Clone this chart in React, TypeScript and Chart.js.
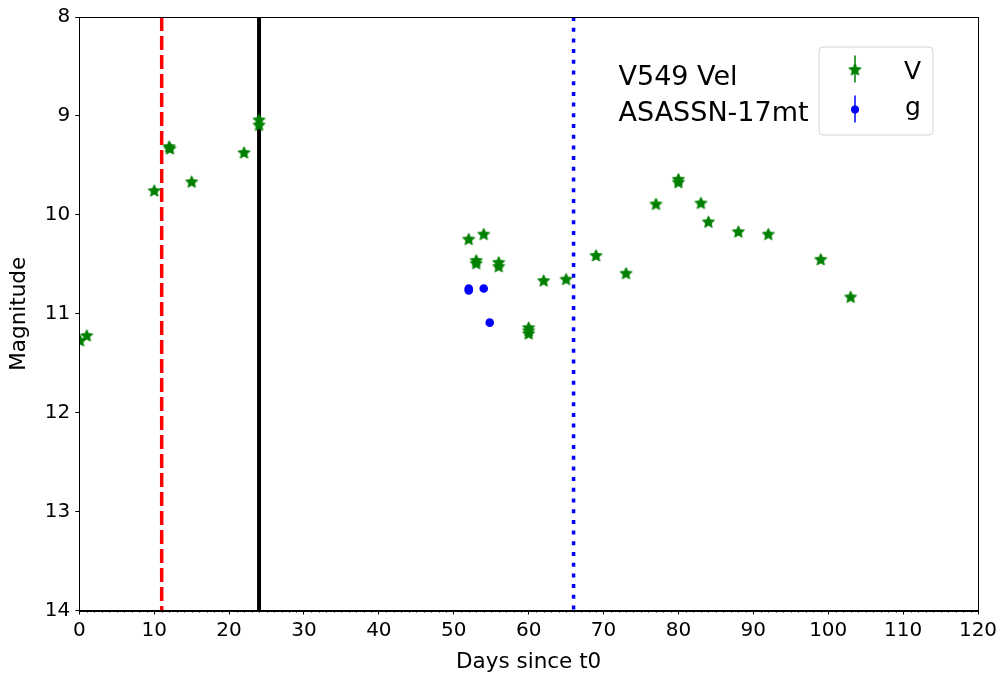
import React, { useEffect, useRef } from 'react';
import { Chart, registerables } from 'chart.js';

Chart.register(...registerables);

// ---- Data ----
const V_DAYS = [0.1, 1, 10, 12, 12.1, 15, 22, 24, 24, 52, 53, 53, 54, 56, 56, 60, 60, 60, 62, 65, 69, 73, 77, 80, 80, 83, 84, 88, 92, 99, 103];
const V_MAGS = [11.27, 11.22, 9.755, 9.31, 9.33, 9.665, 9.37, 9.04, 9.09, 10.245, 10.46, 10.49, 10.195, 10.48, 10.52, 11.14, 11.17, 11.2, 10.665, 10.65, 10.41, 10.59, 9.89, 9.64, 9.67, 9.88, 10.07, 10.17, 10.195, 10.45, 10.83];
const G_DAYS = [52, 52, 54, 54.8];
const G_MAGS = [10.745, 10.765, 10.745, 11.09];
const MARKER_DAYS = [11, 24, 66];
const SERIES_LABELS = ['V', 'g'];
const ANNOTATION_LINES = ['V549 Vel', 'ASASSN-17mt'];
const ANNOTATION_DAY = 72;
const ANNOTATION_MAG = 8.69;
const X_MIN = 0, X_MAX = 120, X_STEP = 10;
const Y_MIN = 8, Y_MAX = 14, Y_STEP = 1;
const AXIS_TITLES = { x: 'Days since t0', y: 'Magnitude' };

// ---- Styles ----
const FONT = '"DejaVu Sans", "Liberation Sans", sans-serif';
const GREEN = '#008000';
const BLUE = '#0000ff';
const LINE_STYLES = [
  { color: '#ff0000', dash: [14, 5], width: 3.5 },
  { color: '#000000', dash: [], width: 4 },
  { color: '#0000ff', dash: [4, 6.7], width: 3.5 },
];

function makeStar(r: number, color: string): HTMLCanvasElement {
  const c = document.createElement('canvas');
  const size = Math.ceil(2 * r + 2);
  c.width = size;
  c.height = size;
  const ctx = c.getContext('2d')!;
  const cx = size / 2, cy = size / 2 + r * 0.08;
  ctx.beginPath();
  for (let i = 0; i < 10; i++) {
    const rr = i % 2 === 0 ? r : r * 0.47;
    const a = -Math.PI / 2 + (i * Math.PI) / 5;
    const px = cx + rr * Math.cos(a);
    const py = cy + rr * Math.sin(a);
    if (i === 0) ctx.moveTo(px, py);
    else ctx.lineTo(px, py);
  }
  ctx.closePath();
  ctx.fillStyle = color;
  ctx.fill();
  ctx.lineWidth = 1;
  ctx.strokeStyle = color;
  ctx.stroke();
  return c;
}

export default function App() {
  const ref = useRef<HTMLCanvasElement | null>(null);

  useEffect(() => {
    const canvas = ref.current;
    if (!canvas) return;
    const star = makeStar(6.3, GREEN);

    const decor = {
      id: 'decor',
      afterDraw(chart: any) {
        const { ctx, chartArea: ca } = chart;
        const xs = chart.scales.x;
        const ys = chart.scales.y;
        ctx.save();
        // frame
        ctx.strokeStyle = '#000';
        ctx.lineWidth = 1;
        ctx.strokeRect(Math.round(ca.left) + 0.5, Math.round(ca.top) + 0.5, Math.round(ca.right - ca.left), Math.round(ca.bottom - ca.top));
        // minor ticks
        ctx.beginPath();
        for (let d = X_MIN; d <= X_MAX; d += 1) {
          if (d % X_STEP === 0) continue;
          const px = Math.round(xs.getPixelForValue(d)) + 0.5;
          ctx.moveTo(px, ca.bottom);
          ctx.lineTo(px, ca.bottom + 2);
        }
        ctx.stroke();
        // annotation
        ctx.fillStyle = '#000';
        ctx.font = `27px ${FONT}`;
        ctx.textAlign = 'left';
        ctx.textBaseline = 'alphabetic';
        const ax = xs.getPixelForValue(ANNOTATION_DAY);
        const ay = ys.getPixelForValue(ANNOTATION_MAG);
        ANNOTATION_LINES.forEach((t, i) => ctx.fillText(t, ax, ay + i * 36));
        // legend
        const bw = 114, bh = 88;
        const bx = ca.right - 45 - bw;
        const by = ca.top + 30;
        ctx.beginPath();
        const r = 4;
        ctx.moveTo(bx + r, by);
        ctx.lineTo(bx + bw - r, by);
        ctx.quadraticCurveTo(bx + bw, by, bx + bw, by + r);
        ctx.lineTo(bx + bw, by + bh - r);
        ctx.quadraticCurveTo(bx + bw, by + bh, bx + bw - r, by + bh);
        ctx.lineTo(bx + r, by + bh);
        ctx.quadraticCurveTo(bx, by + bh, bx, by + bh - r);
        ctx.lineTo(bx, by + r);
        ctx.quadraticCurveTo(bx, by, bx + r, by);
        ctx.closePath();
        ctx.fillStyle = 'rgba(255,255,255,0.85)';
        ctx.fill();
        ctx.strokeStyle = '#d4d4d4';
        ctx.lineWidth = 1;
        ctx.stroke();
        const mx = bx + 36;
        const rows = [by + 22.5, by + 62.5];
        // V entry
        ctx.strokeStyle = GREEN;
        ctx.lineWidth = 1.5;
        ctx.beginPath();
        ctx.moveTo(mx, rows[0] - 14);
        ctx.lineTo(mx, rows[0] + 13);
        ctx.stroke();
        ctx.drawImage(star, mx - star.width / 2, rows[0] - star.height / 2);
        // g entry
        ctx.strokeStyle = BLUE;
        ctx.beginPath();
        ctx.moveTo(mx, rows[1] - 14);
        ctx.lineTo(mx, rows[1] + 13);
        ctx.stroke();
        ctx.fillStyle = BLUE;
        ctx.beginPath();
        ctx.arc(mx, rows[1], 4, 0, Math.PI * 2);
        ctx.fill();
        ctx.fillStyle = '#000';
        ctx.font = `25px ${FONT}`;
        ctx.textBaseline = 'alphabetic';
        ctx.fillText(SERIES_LABELS[0], bx + 85, rows[0] + 9);
        ctx.fillText(SERIES_LABELS[1], bx + 86, rows[1] + 5);
        ctx.restore();
      },
    };

    const lineSets = MARKER_DAYS.map((d, i) => ({
      type: 'line' as const,
      label: 'marker' + i,
      data: [{ x: d, y: Y_MIN }, { x: d, y: Y_MAX }],
      borderColor: LINE_STYLES[i].color,
      borderWidth: LINE_STYLES[i].width,
      borderDash: LINE_STYLES[i].dash,
      pointRadius: 0,
      showLine: true,
      fill: false,
      clip: 0,
      order: 2,
    }));

    const chart = new Chart(canvas, {
      type: 'scatter',
      data: {
        datasets: [
          ...lineSets,
          {
            label: SERIES_LABELS[0],
            data: V_DAYS.map((d, i) => ({ x: d, y: V_MAGS[i] })),
            pointStyle: star as any,
            pointRadius: 6,
            backgroundColor: GREEN,
            borderColor: GREEN,
            clip: 0,
            order: 1,
          } as any,
          {
            label: SERIES_LABELS[1],
            data: G_DAYS.map((d, i) => ({ x: d, y: G_MAGS[i] })),
            pointStyle: 'circle',
            pointRadius: 4.3,
            pointBorderWidth: 0,
            backgroundColor: BLUE,
            borderColor: BLUE,
            clip: 0,
            order: 0,
          } as any,
        ],
      },
      options: {
        animation: false,
        responsive: false,
        maintainAspectRatio: false,
        layout: { padding: { top: 15, right: 25, left: 0, bottom: 0 } },
        plugins: { legend: { display: false }, tooltip: { enabled: false } },
        scales: {
          x: {
            type: 'linear',
            min: X_MIN,
            max: X_MAX,
            ticks: {
              stepSize: X_STEP,
              color: '#000',
              font: { family: FONT, size: 20 },
              padding: 4,
              maxRotation: 0,
            },
            grid: { drawOnChartArea: false, drawTicks: true, tickLength: 4, tickColor: '#000', tickWidth: 1 },
            border: { display: true, color: '#000', width: 1 },
            title: {
              display: true,
              text: AXIS_TITLES.x,
              color: '#000',
              font: { family: FONT, size: 21.5 },
              padding: { top: 0, bottom: 6 },
            },
            afterFit(scale: any) {
              scale.height = 70.5;
            },
          },
          y: {
            type: 'linear',
            reverse: true,
            min: Y_MIN,
            max: Y_MAX,
            ticks: {
              stepSize: Y_STEP,
              color: '#000',
              font: { family: FONT, size: 20 },
              padding: 5,
            },
            grid: { drawOnChartArea: false, drawTicks: true, tickLength: 4, tickColor: '#000', tickWidth: 1 },
            border: { display: true, color: '#000', width: 1 },
            title: {
              display: true,
              text: AXIS_TITLES.y,
              color: '#000',
              font: { family: FONT, size: 21.5 },
              padding: { top: 7, bottom: 0 },
            },
            afterFit(scale: any) {
              scale.width = 79.3;
            },
          },
        },
      } as any,
      plugins: [decor],
    });
    return () => chart.destroy();
  }, []);

  return (
    <div style={{ position: 'fixed', left: 0, top: 0, width: 1003, height: 681, background: '#fff' }}>
      <canvas ref={ref} width={1003} height={681} style={{ width: 1003, height: 681, display: 'block' }} />
    </div>
  );
}
